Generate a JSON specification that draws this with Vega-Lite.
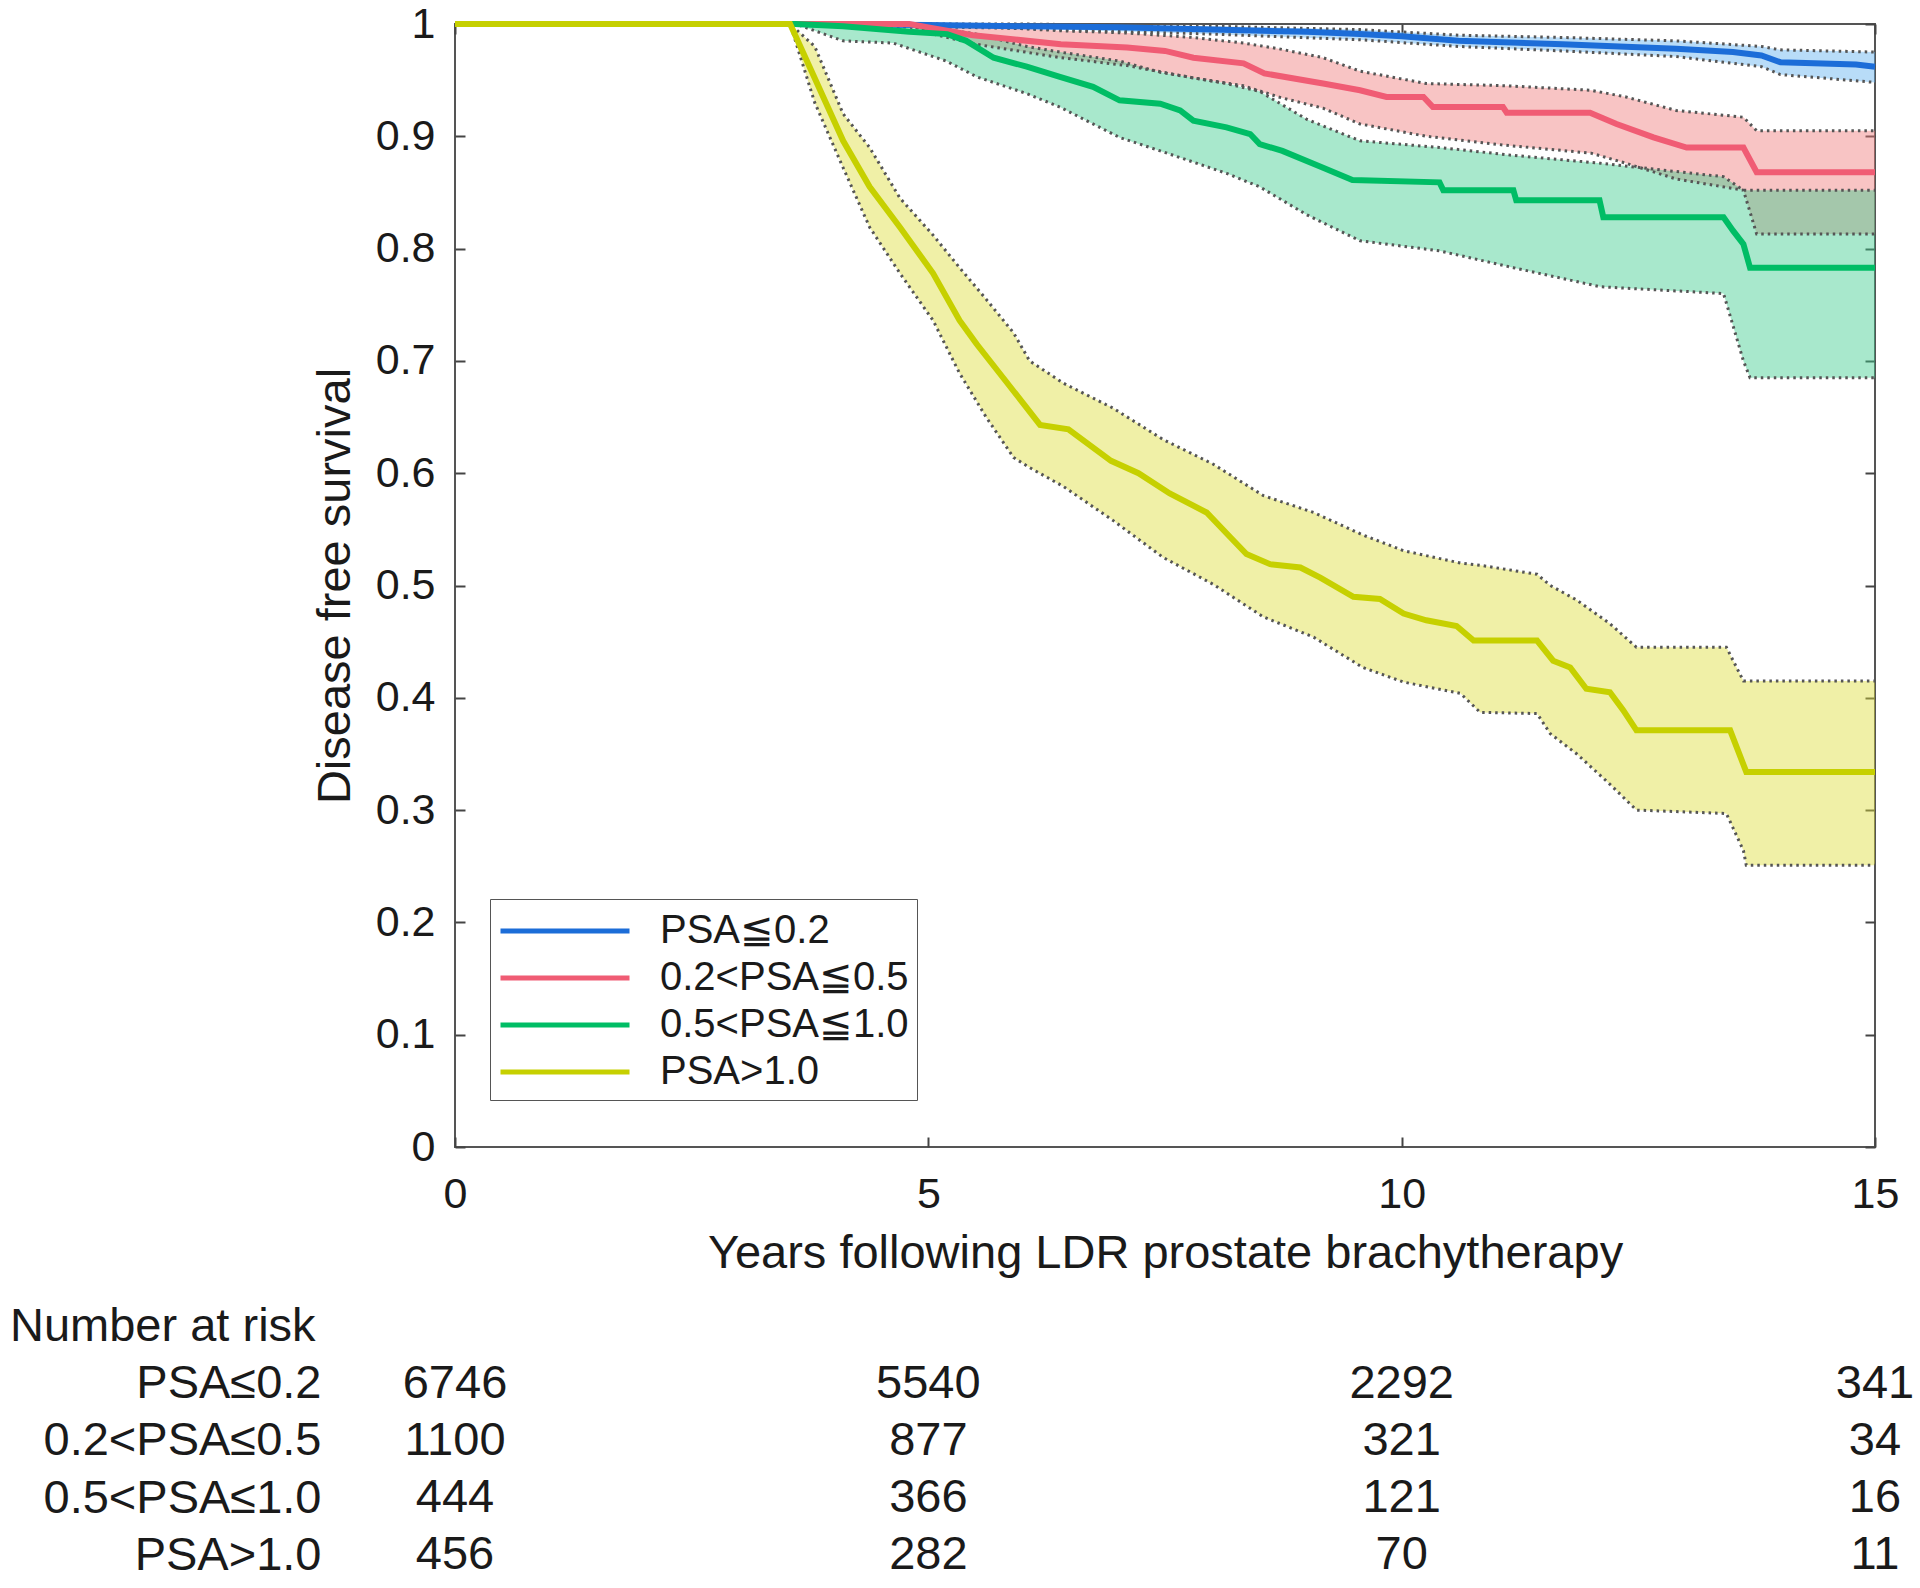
{
  "$schema": "https://vega.github.io/schema/vega-lite/v6.json",
  "background": "white",
  "padding": {"left": 10, "top": 2, "right": 0, "bottom": 0},
  "spacing": 26,
  "resolve": {"scale": {"color": "independent", "fill": "independent"}, "legend": {"color": "independent"}},
  "config": {
    "font": "Liberation Sans",
    "view": {"stroke": null},
    "axis": {"labelFont": "Liberation Sans", "titleFont": "Liberation Sans", "labelColor": "#1a1a1a", "titleColor": "#1a1a1a", "titleFontWeight": "normal", "grid": false},
    "title": {"font": "Liberation Sans", "fontWeight": "normal", "color": "#1a1a1a"}
  },
  "datasets": {
    "curve": [
      {"g": "PSA≤0.2", "t": 0, "s": 1}, {"g": "PSA≤0.2", "t": 3.5, "s": 1}, {"g": "PSA≤0.2", "t": 5, "s": 0.999}, {"g": "PSA≤0.2", "t": 6, "s": 0.998}, {"g": "PSA≤0.2", "t": 7, "s": 0.997}, {"g": "PSA≤0.2", "t": 8, "s": 0.995}, {"g": "PSA≤0.2", "t": 9, "s": 0.993}, {"g": "PSA≤0.2", "t": 9.56, "s": 0.991}, {"g": "PSA≤0.2", "t": 10, "s": 0.989}, {"g": "PSA≤0.2", "t": 10.6, "s": 0.985}, {"g": "PSA≤0.2", "t": 11.7, "s": 0.982}, {"g": "PSA≤0.2", "t": 12.9, "s": 0.978}, {"g": "PSA≤0.2", "t": 13.5, "s": 0.975}, {"g": "PSA≤0.2", "t": 13.8, "s": 0.972}, {"g": "PSA≤0.2", "t": 14, "s": 0.966}, {"g": "PSA≤0.2", "t": 14.8, "s": 0.964}, {"g": "PSA≤0.2", "t": 15, "s": 0.962},
      {"g": "0.2<PSA≤0.5", "t": 0, "s": 1}, {"g": "0.2<PSA≤0.5", "t": 4.8, "s": 1}, {"g": "0.2<PSA≤0.5", "t": 5, "s": 0.997}, {"g": "0.2<PSA≤0.5", "t": 5.47, "s": 0.99}, {"g": "0.2<PSA≤0.5", "t": 6.4, "s": 0.982}, {"g": "0.2<PSA≤0.5", "t": 7.1, "s": 0.979}, {"g": "0.2<PSA≤0.5", "t": 7.5, "s": 0.976}, {"g": "0.2<PSA≤0.5", "t": 7.8, "s": 0.97}, {"g": "0.2<PSA≤0.5", "t": 8.33, "s": 0.965}, {"g": "0.2<PSA≤0.5", "t": 8.55, "s": 0.956}, {"g": "0.2<PSA≤0.5", "t": 9.17, "s": 0.947}, {"g": "0.2<PSA≤0.5", "t": 9.56, "s": 0.941}, {"g": "0.2<PSA≤0.5", "t": 9.84, "s": 0.935}, {"g": "0.2<PSA≤0.5", "t": 10.23, "s": 0.935}, {"g": "0.2<PSA≤0.5", "t": 10.33, "s": 0.926}, {"g": "0.2<PSA≤0.5", "t": 11.07, "s": 0.926}, {"g": "0.2<PSA≤0.5", "t": 11.11, "s": 0.921}, {"g": "0.2<PSA≤0.5", "t": 11.99, "s": 0.921}, {"g": "0.2<PSA≤0.5", "t": 12.27, "s": 0.911}, {"g": "0.2<PSA≤0.5", "t": 12.66, "s": 0.899}, {"g": "0.2<PSA≤0.5", "t": 13.01, "s": 0.89}, {"g": "0.2<PSA≤0.5", "t": 13.61, "s": 0.89}, {"g": "0.2<PSA≤0.5", "t": 13.75, "s": 0.868}, {"g": "0.2<PSA≤0.5", "t": 15, "s": 0.868},
      {"g": "0.5<PSA≤1.0", "t": 0, "s": 1}, {"g": "0.5<PSA≤1.0", "t": 3.6, "s": 1}, {"g": "0.5<PSA≤1.0", "t": 4.1, "s": 0.998}, {"g": "0.5<PSA≤1.0", "t": 4.8, "s": 0.993}, {"g": "0.5<PSA≤1.0", "t": 5.2, "s": 0.991}, {"g": "0.5<PSA≤1.0", "t": 5.4, "s": 0.985}, {"g": "0.5<PSA≤1.0", "t": 5.69, "s": 0.97}, {"g": "0.5<PSA≤1.0", "t": 6.04, "s": 0.962}, {"g": "0.5<PSA≤1.0", "t": 6.39, "s": 0.953}, {"g": "0.5<PSA≤1.0", "t": 6.74, "s": 0.944}, {"g": "0.5<PSA≤1.0", "t": 7.02, "s": 0.932}, {"g": "0.5<PSA≤1.0", "t": 7.45, "s": 0.929}, {"g": "0.5<PSA≤1.0", "t": 7.66, "s": 0.923}, {"g": "0.5<PSA≤1.0", "t": 7.8, "s": 0.914}, {"g": "0.5<PSA≤1.0", "t": 8.15, "s": 0.908}, {"g": "0.5<PSA≤1.0", "t": 8.4, "s": 0.902}, {"g": "0.5<PSA≤1.0", "t": 8.5, "s": 0.893}, {"g": "0.5<PSA≤1.0", "t": 8.74, "s": 0.887}, {"g": "0.5<PSA≤1.0", "t": 9.17, "s": 0.872}, {"g": "0.5<PSA≤1.0", "t": 9.48, "s": 0.861}, {"g": "0.5<PSA≤1.0", "t": 10.4, "s": 0.859}, {"g": "0.5<PSA≤1.0", "t": 10.44, "s": 0.852}, {"g": "0.5<PSA≤1.0", "t": 11.18, "s": 0.852}, {"g": "0.5<PSA≤1.0", "t": 11.21, "s": 0.843}, {"g": "0.5<PSA≤1.0", "t": 12.09, "s": 0.843}, {"g": "0.5<PSA≤1.0", "t": 12.13, "s": 0.828}, {"g": "0.5<PSA≤1.0", "t": 13.4, "s": 0.828}, {"g": "0.5<PSA≤1.0", "t": 13.5, "s": 0.816}, {"g": "0.5<PSA≤1.0", "t": 13.61, "s": 0.804}, {"g": "0.5<PSA≤1.0", "t": 13.68, "s": 0.783}, {"g": "0.5<PSA≤1.0", "t": 15, "s": 0.783},
      {"g": "PSA>1.0", "t": 0, "s": 1}, {"g": "PSA>1.0", "t": 3.54, "s": 1}, {"g": "PSA>1.0", "t": 3.75, "s": 0.961}, {"g": "PSA>1.0", "t": 4.1, "s": 0.896}, {"g": "PSA>1.0", "t": 4.38, "s": 0.855}, {"g": "PSA>1.0", "t": 4.7, "s": 0.819}, {"g": "PSA>1.0", "t": 5.05, "s": 0.778}, {"g": "PSA>1.0", "t": 5.33, "s": 0.736}, {"g": "PSA>1.0", "t": 5.51, "s": 0.715}, {"g": "PSA>1.0", "t": 5.79, "s": 0.685}, {"g": "PSA>1.0", "t": 6.18, "s": 0.643}, {"g": "PSA>1.0", "t": 6.48, "s": 0.639}, {"g": "PSA>1.0", "t": 6.93, "s": 0.611}, {"g": "PSA>1.0", "t": 7.22, "s": 0.6}, {"g": "PSA>1.0", "t": 7.55, "s": 0.582}, {"g": "PSA>1.0", "t": 7.94, "s": 0.565}, {"g": "PSA>1.0", "t": 8.19, "s": 0.543}, {"g": "PSA>1.0", "t": 8.36, "s": 0.528}, {"g": "PSA>1.0", "t": 8.61, "s": 0.519}, {"g": "PSA>1.0", "t": 8.93, "s": 0.516}, {"g": "PSA>1.0", "t": 9.14, "s": 0.507}, {"g": "PSA>1.0", "t": 9.49, "s": 0.49}, {"g": "PSA>1.0", "t": 9.77, "s": 0.488}, {"g": "PSA>1.0", "t": 10.02, "s": 0.475}, {"g": "PSA>1.0", "t": 10.26, "s": 0.469}, {"g": "PSA>1.0", "t": 10.58, "s": 0.464}, {"g": "PSA>1.0", "t": 10.76, "s": 0.451}, {"g": "PSA>1.0", "t": 11.43, "s": 0.451}, {"g": "PSA>1.0", "t": 11.6, "s": 0.433}, {"g": "PSA>1.0", "t": 11.78, "s": 0.427}, {"g": "PSA>1.0", "t": 11.95, "s": 0.408}, {"g": "PSA>1.0", "t": 12.2, "s": 0.405}, {"g": "PSA>1.0", "t": 12.34, "s": 0.389}, {"g": "PSA>1.0", "t": 12.48, "s": 0.371}, {"g": "PSA>1.0", "t": 13.47, "s": 0.371}, {"g": "PSA>1.0", "t": 13.64, "s": 0.334}, {"g": "PSA>1.0", "t": 15, "s": 0.334}
    ],
    "band": [
      {"grp": "PSA≤0.2", "t": 0, "lo": 1, "hi": 1}, {"grp": "PSA≤0.2", "t": 3.5, "lo": 1, "hi": 1}, {"grp": "PSA≤0.2", "t": 6, "lo": 0.996, "hi": 1}, {"grp": "PSA≤0.2", "t": 8, "lo": 0.991, "hi": 0.998}, {"grp": "PSA≤0.2", "t": 9.56, "lo": 0.986, "hi": 0.995}, {"grp": "PSA≤0.2", "t": 10.6, "lo": 0.98, "hi": 0.99}, {"grp": "PSA≤0.2", "t": 11.7, "lo": 0.976, "hi": 0.988}, {"grp": "PSA≤0.2", "t": 12.9, "lo": 0.971, "hi": 0.985}, {"grp": "PSA≤0.2", "t": 13.8, "lo": 0.962, "hi": 0.98}, {"grp": "PSA≤0.2", "t": 14, "lo": 0.955, "hi": 0.977}, {"grp": "PSA≤0.2", "t": 15, "lo": 0.948, "hi": 0.975},
      {"grp": "0.2<PSA≤0.5", "t": 0, "lo": 1, "hi": 1}, {"grp": "0.2<PSA≤0.5", "t": 4.8, "lo": 1, "hi": 1}, {"grp": "0.2<PSA≤0.5", "t": 5, "lo": 0.992, "hi": 1}, {"grp": "0.2<PSA≤0.5", "t": 5.5, "lo": 0.982, "hi": 0.998}, {"grp": "0.2<PSA≤0.5", "t": 6.4, "lo": 0.97, "hi": 0.994}, {"grp": "0.2<PSA≤0.5", "t": 7.1, "lo": 0.963, "hi": 0.992}, {"grp": "0.2<PSA≤0.5", "t": 7.8, "lo": 0.952, "hi": 0.988}, {"grp": "0.2<PSA≤0.5", "t": 8.33, "lo": 0.945, "hi": 0.983}, {"grp": "0.2<PSA≤0.5", "t": 8.7, "lo": 0.935, "hi": 0.978}, {"grp": "0.2<PSA≤0.5", "t": 9.17, "lo": 0.925, "hi": 0.97}, {"grp": "0.2<PSA≤0.5", "t": 9.56, "lo": 0.911, "hi": 0.958}, {"grp": "0.2<PSA≤0.5", "t": 10.26, "lo": 0.9, "hi": 0.947}, {"grp": "0.2<PSA≤0.5", "t": 11.1, "lo": 0.892, "hi": 0.945}, {"grp": "0.2<PSA≤0.5", "t": 12, "lo": 0.885, "hi": 0.941}, {"grp": "0.2<PSA≤0.5", "t": 12.37, "lo": 0.876, "hi": 0.935}, {"grp": "0.2<PSA≤0.5", "t": 12.9, "lo": 0.862, "hi": 0.923}, {"grp": "0.2<PSA≤0.5", "t": 13.61, "lo": 0.852, "hi": 0.917}, {"grp": "0.2<PSA≤0.5", "t": 13.75, "lo": 0.813, "hi": 0.905}, {"grp": "0.2<PSA≤0.5", "t": 15, "lo": 0.813, "hi": 0.905},
      {"grp": "0.5<PSA≤1.0", "t": 0, "lo": 1, "hi": 1}, {"grp": "0.5<PSA≤1.0", "t": 3.6, "lo": 1, "hi": 1}, {"grp": "0.5<PSA≤1.0", "t": 4.1, "lo": 0.985, "hi": 1}, {"grp": "0.5<PSA≤1.0", "t": 4.63, "lo": 0.983, "hi": 0.998}, {"grp": "0.5<PSA≤1.0", "t": 5.19, "lo": 0.967, "hi": 0.995}, {"grp": "0.5<PSA≤1.0", "t": 5.51, "lo": 0.953, "hi": 0.991}, {"grp": "0.5<PSA≤1.0", "t": 6.04, "lo": 0.938, "hi": 0.98}, {"grp": "0.5<PSA≤1.0", "t": 6.39, "lo": 0.926, "hi": 0.975}, {"grp": "0.5<PSA≤1.0", "t": 7.02, "lo": 0.899, "hi": 0.967}, {"grp": "0.5<PSA≤1.0", "t": 7.45, "lo": 0.887, "hi": 0.957}, {"grp": "0.5<PSA≤1.0", "t": 8.15, "lo": 0.867, "hi": 0.947}, {"grp": "0.5<PSA≤1.0", "t": 8.5, "lo": 0.855, "hi": 0.94}, {"grp": "0.5<PSA≤1.0", "t": 9, "lo": 0.83, "hi": 0.915}, {"grp": "0.5<PSA≤1.0", "t": 9.56, "lo": 0.807, "hi": 0.896}, {"grp": "0.5<PSA≤1.0", "t": 10.4, "lo": 0.798, "hi": 0.89}, {"grp": "0.5<PSA≤1.0", "t": 11.18, "lo": 0.783, "hi": 0.883}, {"grp": "0.5<PSA≤1.0", "t": 12.1, "lo": 0.766, "hi": 0.876}, {"grp": "0.5<PSA≤1.0", "t": 13.4, "lo": 0.76, "hi": 0.864}, {"grp": "0.5<PSA≤1.0", "t": 13.61, "lo": 0.7, "hi": 0.852}, {"grp": "0.5<PSA≤1.0", "t": 13.68, "lo": 0.685, "hi": 0.852}, {"grp": "0.5<PSA≤1.0", "t": 15, "lo": 0.685, "hi": 0.852},
      {"grp": "PSA>1.0", "t": 0, "lo": 1, "hi": 1}, {"grp": "PSA>1.0", "t": 3.54, "lo": 1, "hi": 1}, {"grp": "PSA>1.0", "t": 3.8, "lo": 0.93, "hi": 0.98}, {"grp": "PSA>1.0", "t": 4.1, "lo": 0.872, "hi": 0.92}, {"grp": "PSA>1.0", "t": 4.38, "lo": 0.819, "hi": 0.89}, {"grp": "PSA>1.0", "t": 4.7, "lo": 0.778, "hi": 0.845}, {"grp": "PSA>1.0", "t": 5.05, "lo": 0.736, "hi": 0.812}, {"grp": "PSA>1.0", "t": 5.33, "lo": 0.689, "hi": 0.783}, {"grp": "PSA>1.0", "t": 5.61, "lo": 0.65, "hi": 0.755}, {"grp": "PSA>1.0", "t": 5.9, "lo": 0.614, "hi": 0.725}, {"grp": "PSA>1.0", "t": 6.07, "lo": 0.605, "hi": 0.7}, {"grp": "PSA>1.0", "t": 6.43, "lo": 0.588, "hi": 0.68}, {"grp": "PSA>1.0", "t": 6.95, "lo": 0.558, "hi": 0.658}, {"grp": "PSA>1.0", "t": 7.48, "lo": 0.525, "hi": 0.63}, {"grp": "PSA>1.0", "t": 8.01, "lo": 0.501, "hi": 0.608}, {"grp": "PSA>1.0", "t": 8.54, "lo": 0.472, "hi": 0.58}, {"grp": "PSA>1.0", "t": 9.07, "lo": 0.454, "hi": 0.565}, {"grp": "PSA>1.0", "t": 9.59, "lo": 0.427, "hi": 0.545}, {"grp": "PSA>1.0", "t": 10.02, "lo": 0.414, "hi": 0.531}, {"grp": "PSA>1.0", "t": 10.62, "lo": 0.404, "hi": 0.52}, {"grp": "PSA>1.0", "t": 10.83, "lo": 0.387, "hi": 0.518}, {"grp": "PSA>1.0", "t": 11.43, "lo": 0.386, "hi": 0.51}, {"grp": "PSA>1.0", "t": 11.57, "lo": 0.368, "hi": 0.5}, {"grp": "PSA>1.0", "t": 11.85, "lo": 0.35, "hi": 0.487}, {"grp": "PSA>1.0", "t": 12.2, "lo": 0.323, "hi": 0.466}, {"grp": "PSA>1.0", "t": 12.48, "lo": 0.3, "hi": 0.445}, {"grp": "PSA>1.0", "t": 13.43, "lo": 0.297, "hi": 0.445}, {"grp": "PSA>1.0", "t": 13.61, "lo": 0.264, "hi": 0.415}, {"grp": "PSA>1.0", "t": 13.64, "lo": 0.251, "hi": 0.415}, {"grp": "PSA>1.0", "t": 15, "lo": 0.251, "hi": 0.415}
    ],
    "risk": [
      {"g": "PSA≤0.2", "t": 0, "n": 6746}, {"g": "PSA≤0.2", "t": 5, "n": 5540}, {"g": "PSA≤0.2", "t": 10, "n": 2292}, {"g": "PSA≤0.2", "t": 15, "n": 341},
      {"g": "0.2<PSA≤0.5", "t": 0, "n": 1100}, {"g": "0.2<PSA≤0.5", "t": 5, "n": 877}, {"g": "0.2<PSA≤0.5", "t": 10, "n": 321}, {"g": "0.2<PSA≤0.5", "t": 15, "n": 34},
      {"g": "0.5<PSA≤1.0", "t": 0, "n": 444}, {"g": "0.5<PSA≤1.0", "t": 5, "n": 366}, {"g": "0.5<PSA≤1.0", "t": 10, "n": 121}, {"g": "0.5<PSA≤1.0", "t": 15, "n": 16},
      {"g": "PSA>1.0", "t": 0, "n": 456}, {"g": "PSA>1.0", "t": 5, "n": 282}, {"g": "PSA>1.0", "t": 10, "n": 70}, {"g": "PSA>1.0", "t": 15, "n": 11}
    ]
  },
  "vconcat": [
    {
      "width": 1420,
      "height": 1123,
      "view": {"stroke": "#555", "strokeWidth": 2},
      "resolve": {"axis": {"x": "independent", "y": "independent"}},
      "layer": [
        {
          "data": {"name": "band"},
          "mark": {"type": "area", "fillOpacity": 0.45},
          "encoding": {
            "x": {"field": "t", "type": "quantitative", "scale": {"domain": [0, 15], "nice": false},
              "axis": {"orient": "bottom", "values": [0, 5, 10, 15], "labelFlush": false, "title": "Years following LDR prostate brachytherapy", "labelFontSize": 43, "titleFontSize": 47, "tickSize": -10, "tickWidth": 2, "tickColor": "#444", "domain": false, "labelPadding": 36, "titlePadding": 14}},
            "y": {"field": "lo", "type": "quantitative", "scale": {"domain": [0, 1], "nice": false},
              "axis": {"orient": "left", "values": [0, 0.1, 0.2, 0.3, 0.4, 0.5, 0.6, 0.7, 0.8, 0.9, 1], "format": "~g", "labelFlush": false, "title": "Disease free survival", "labelFontSize": 43, "titleFontSize": 47, "tickSize": -10, "tickWidth": 2, "tickColor": "#444", "domain": false, "labelPadding": 30, "titlePadding": 16}},
            "y2": {"field": "hi"},
            "fill": {"field": "grp", "type": "nominal", "scale": {"domain": ["PSA>1.0", "0.5<PSA≤1.0", "0.2<PSA≤0.5", "PSA≤0.2"], "range": ["#DEDE3C", "#3ECC8E", "#EF7C7C", "#62B2EF"]}, "legend": null}
          }
        },
        {
          "data": {"name": "band"},
          "mark": {"type": "line", "strokeDash": [2.5, 4], "strokeWidth": 3, "color": "#555555"},
          "encoding": {
            "x": {"field": "t", "type": "quantitative", "axis": null},
            "y": {"field": "lo", "type": "quantitative", "axis": null},
            "detail": {"field": "grp"}
          }
        },
        {
          "data": {"name": "band"},
          "mark": {"type": "line", "strokeDash": [2.5, 4], "strokeWidth": 3, "color": "#555555"},
          "encoding": {
            "x": {"field": "t", "type": "quantitative", "axis": null},
            "y": {"field": "hi", "type": "quantitative", "axis": null},
            "detail": {"field": "grp"}
          }
        },
        {
          "data": {"name": "curve"},
          "mark": {"type": "line", "strokeWidth": 6},
          "encoding": {
            "x": {"field": "t", "type": "quantitative",
              "axis": {"orient": "top", "values": [0, 5, 10, 15], "labels": false, "title": null, "tickSize": -10, "tickWidth": 2, "tickColor": "#444", "domain": false}},
            "y": {"field": "s", "type": "quantitative",
              "axis": {"orient": "right", "values": [0, 0.1, 0.2, 0.3, 0.4, 0.5, 0.6, 0.7, 0.8, 0.9, 1], "labels": false, "title": null, "tickSize": -10, "tickWidth": 2, "tickColor": "#444", "domain": false}},
            "color": {"field": "g", "type": "nominal",
              "scale": {"domain": ["PSA≤0.2", "0.2<PSA≤0.5", "0.5<PSA≤1.0", "PSA>1.0"], "range": ["#1C6DD8", "#F05C74", "#00BD65", "#C6D000"]},
              "legend": {"orient": "none", "legendX": 35, "legendY": 875, "title": null, "labelExpr": "replace(datum.label, '≤', '≦')", "labelFont": "Liberation Sans", "labelFontSize": 40, "labelColor": "#1a1a1a", "labelOffset": 114, "symbolType": "M-1,0H5", "symbolSize": 1849, "symbolStrokeWidth": 5, "rowPadding": 3, "padding": 8, "strokeColor": "#555", "fillColor": "white", "labelLimit": 400}}
          }
        }
      ]
    },
    {
      "width": 1420,
      "height": 229,
      "view": {"stroke": null},
      "title": {"text": "Number at risk", "anchor": "start", "frame": "group", "dx": -445, "fontSize": 47, "baseline": "alphabetic", "offset": -33},
      "data": {"name": "risk"},
      "mark": {"type": "text", "fontSize": 47, "font": "Liberation Sans", "color": "#1a1a1a"},
      "encoding": {
        "x": {"field": "t", "type": "quantitative", "scale": {"domain": [0, 15], "nice": false}, "axis": null},
        "y": {"field": "g", "type": "nominal", "sort": ["PSA≤0.2", "0.2<PSA≤0.5", "0.5<PSA≤1.0", "PSA>1.0"],
          "axis": {"title": null, "domain": false, "ticks": false, "labelFontSize": 47, "labelPadding": 134, "labelLimit": 500}},
        "text": {"field": "n", "type": "quantitative", "format": "d"}
      }
    }
  ]
}
